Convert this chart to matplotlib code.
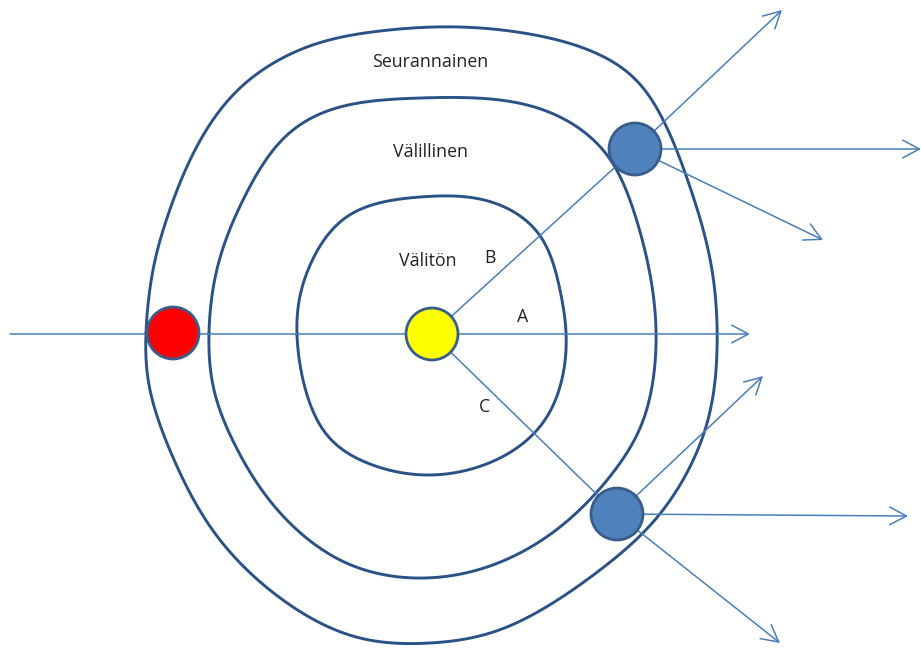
import numpy as np
import matplotlib
matplotlib.use("Agg")
import matplotlib.pyplot as plt
from matplotlib.patches import Circle, FancyArrowPatch

# ---- data (pixel coordinates of the diagram) ----
outer_ring = [(146, 333), (153, 270), (168, 215), (195, 150), (240, 88), (307, 47),
              (380, 31), (460, 27), (540, 36), (600, 55), (647, 93), (690, 187),
              (712, 270), (717, 350), (705, 430), (663, 510), (600, 570), (507, 627),
              (430, 643), (360, 638), (290, 605), (220, 540), (175, 462), (150, 390)]
middle_ring = [(209, 333), (218, 265), (245, 196), (285, 137), (340, 107),
               (420, 98), (500, 100), (560, 117), (607, 155), (635, 215),
               (651, 280), (656, 345), (645, 415), (615, 470), (560, 527),
               (490, 566), (415, 578), (340, 560), (275, 507), (235, 445), (214, 390)]
inner_ring = [(297, 335), (308, 270), (348, 216), (420, 197), (488, 201),
              (538, 233), (560, 290), (566, 350), (548, 415), (500, 458),
              (430, 475), (365, 462), (320, 425)]

ring_labels = ["Seurannainen", "Välillinen", "Välitön"]
ring_label_pos = [(430, 62), (430, 152), (428, 261)]

edge_labels = ["A", "B", "C"]
edge_label_pos = [(523, 317), (490, 258), (484, 407)]

node_pos = [(432, 334), (173, 333), (635, 149), (617, 514)]
node_fill = ["#FFFF00", "#FF0000", "#4F81BD", "#4F81BD"]

# arrows (start -> end)
arrow_start = [(10, 334), (635, 149), (635, 149), (635, 149), (617, 514), (617, 514), (617, 514)]
arrow_end = [(750, 334), (782, 10), (921, 149), (823, 240), (763, 376), (908, 516), (780, 643)]

# plain connectors
link_start = [(432, 334), (432, 334)]
link_end = [(635, 149), (617, 514)]


def periodic_spline(points, n=1500):
    P = np.array(points, dtype=float)
    m = len(P)
    Q = np.vstack([P, P[:1]])
    h = np.linalg.norm(np.diff(Q, axis=0), axis=1) ** 0.5
    t = np.concatenate([[0], np.cumsum(h)])
    T = t[-1]
    A = np.zeros((m, m))
    for i in range(m):
        A[i, (i - 1) % m] += h[i - 1]
        A[i, i] += 2 * (h[i - 1] + h[i])
        A[i, (i + 1) % m] += h[i]
    res = []
    tt = np.linspace(0, T, n)
    for d in range(2):
        y = Q[:, d]
        rhs = np.array([6 * ((y[i + 1] - y[i]) / h[i] - (y[i] - y[i - 1 if i > 0 else m - 1]) / h[i - 1])
                        for i in range(m)])
        M = np.linalg.solve(A, rhs)
        M = np.append(M, M[0])
        out = np.empty_like(tt)
        idx = np.clip(np.searchsorted(t, tt, side="right") - 1, 0, m - 1)
        for k, tv in enumerate(tt):
            i = idx[k]
            hi = h[i]
            a = (t[i + 1] - tv) / hi
            b = (tv - t[i]) / hi
            out[k] = (a * y[i] + b * y[i + 1]
                      + ((a ** 3 - a) * M[i] + (b ** 3 - b) * M[i + 1]) * hi ** 2 / 6)
        res.append(out)
    return np.array(res).T


fig = plt.figure(figsize=(9.21, 6.48), dpi=100)
ax = fig.add_axes([0, 0, 1, 1])
ax.set_xlim(0, 921)
ax.set_ylim(648, 0)
ax.axis("off")

ring_color = "#2B5287"
line_color = "#4A7EBB"

for ring in (outer_ring, middle_ring, inner_ring):
    c = periodic_spline(ring)
    ax.plot(c[:, 0], c[:, 1], color=ring_color, lw=2.1, zorder=2, solid_capstyle="round")

for (x0, y0), (x1, y1) in zip(link_start, link_end):
    ax.plot([x0, x1], [y0, y1], color=line_color, lw=1.1, zorder=3)

for s, e in zip(arrow_start, arrow_end):
    arr = FancyArrowPatch(s, e, arrowstyle="->,head_length=0.6,head_width=0.32",
                          mutation_scale=20, color=line_color, lw=1.1,
                          shrinkA=0, shrinkB=0, zorder=3)
    ax.add_patch(arr)

for (x, y), fc in zip(node_pos, node_fill):
    ax.add_patch(Circle((x, y), 26, facecolor=fc, edgecolor="#385D8A", lw=2.0, zorder=5))

font = ["Open Sans", "DejaVu Sans"]
for txt, (x, y) in zip(ring_labels, ring_label_pos):
    ax.text(x, y, txt, ha="center", va="center", fontsize=12.8, family=font, color="#222222", zorder=6)
for txt, (x, y) in zip(edge_labels, edge_label_pos):
    ax.text(x, y, txt, ha="center", va="center", fontsize=12.8, family=font, color="#222222", zorder=6)

fig.savefig("out.png", dpi=100)
